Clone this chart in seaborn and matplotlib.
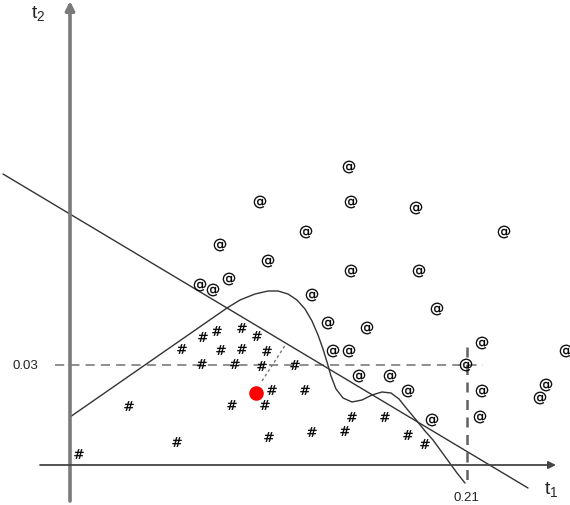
import matplotlib

matplotlib.use("Agg")
import matplotlib.pyplot as plt
import pandas as pd
import seaborn as sns

# diagram drawn in picture units (x right, y down)
hash_x = [79, 129, 177, 182, 203, 217, 242, 257, 221, 242, 267, 202, 235, 262, 295,
          272, 305, 232, 265, 269, 312, 345, 352, 385, 408, 425]
hash_y = [455, 407, 443, 350, 338, 332, 329, 337, 351, 350, 352, 365, 365, 367, 366,
          391, 391, 406, 406, 438, 433, 432, 418, 418, 436, 445]

at_x = [349, 351, 260, 416, 306, 220, 504, 268, 351, 419, 229, 200, 213, 312, 437,
        328, 367, 482, 333, 349, 566, 466, 359, 390, 408, 482, 546, 540, 432, 480]
at_y = [168, 203, 203, 209, 233, 246, 233, 262, 272, 272, 280, 286, 291, 296, 310,
        324, 329, 344, 352, 352, 352, 366, 377, 377, 392, 392, 386, 399, 421, 418]

query_x = [256]
query_y = [394]

# linear boundary
line_x = [3, 528]
line_y = [175, 489]

# non-linear boundary
curve_x = [70, 227, 240, 255, 268, 278, 288, 297, 305, 312, 318, 323, 327, 331, 336,
           343, 352, 362, 372, 382, 391, 399, 407, 417, 425, 433, 441, 449, 457, 465]
curve_y = [418, 309, 301, 295, 292, 292, 295, 301, 310, 322, 336, 350, 363, 377, 390,
           399, 403, 401, 396, 393, 394, 400, 410, 422, 432, 441, 452, 463, 474, 484]

# distance from query to linear boundary
dist_x = [262, 286]
dist_y = [382, 345]

# thresholds
thr_t2 = 366
thr_t1 = 467
thr_labels = ["0.03", "0.21"]


def main() -> None:
    sns.set_style("white")
    plt.rcParams["font.family"] = ["Liberation Sans", "DejaVu Sans"]

    fig = plt.figure(figsize=(5.70, 5.06), dpi=100)
    ax = fig.add_axes([0, 0, 1, 1])
    ax.set_xlim(0, 570)
    ax.set_ylim(506, 0)
    ax.axis("off")

    # axes arrows
    ax.annotate("", xy=(70, 2), xytext=(70, 502),
                arrowprops=dict(arrowstyle="-|>", color="#7a7a7a", lw=2.6,
                                mutation_scale=13, shrinkA=0, shrinkB=0))
    ax.annotate("", xy=(556, 466), xytext=(40, 466),
                arrowprops=dict(arrowstyle="-|>", color="#444444", lw=1.3,
                                mutation_scale=11, shrinkA=0, shrinkB=0))

    # threshold dashes
    sns.lineplot(x=[55, 483], y=[thr_t2, thr_t2], ax=ax, color="#707070", lw=1.1,
                 linestyle=(0, (6, 4)), sort=False, estimator=None)
    sns.lineplot(x=[thr_t1, thr_t1], y=[348, 485], ax=ax, color="#606060", lw=1.8,
                 linestyle=(0, (4, 3)), sort=False, estimator=None)

    sns.lineplot(x=line_x, y=line_y, ax=ax, color="#333333", lw=1.0,
                 sort=False, estimator=None)
    sns.lineplot(x=curve_x, y=curve_y, ax=ax, color="#333333", lw=1.0,
                 sort=False, estimator=None)
    sns.lineplot(x=dist_x, y=dist_y, ax=ax, color="#777777", lw=1.0,
                 linestyle=(0, (2, 2)), sort=False, estimator=None)

    pts = pd.DataFrame({
        "x": hash_x + at_x,
        "y": hash_y + at_y,
        "kind": ["hash"] * len(hash_x) + ["at"] * len(at_x),
    })
    sns.scatterplot(data=pts, x="x", y="y", style="kind", size="kind",
                    markers={"hash": r"$\#$", "at": "$@$"},
                    sizes={"hash": 48, "at": 80}, color="black",
                    linewidth=0.2, edgecolor="black", legend=False, ax=ax,
                    zorder=4)
    sns.scatterplot(x=query_x, y=query_y, color="#ff0000", s=110, linewidth=0,
                    ax=ax, zorder=5)

    ax.text(38, 13, r"$\mathregular{t_2}$", fontsize=14, ha="center", va="center")
    ax.text(551, 490, r"$\mathregular{t_1}$", fontsize=14, ha="center", va="center")
    ax.text(25, 366, thr_labels[0], fontsize=9.5, ha="center", va="center",
            color="#222222")
    ax.text(466, 498, thr_labels[1], fontsize=9.5, ha="center", va="center",
            color="#222222")

    fig.savefig("out.png", dpi=100)
    plt.close(fig)


if __name__ == "__main__":
    main()
